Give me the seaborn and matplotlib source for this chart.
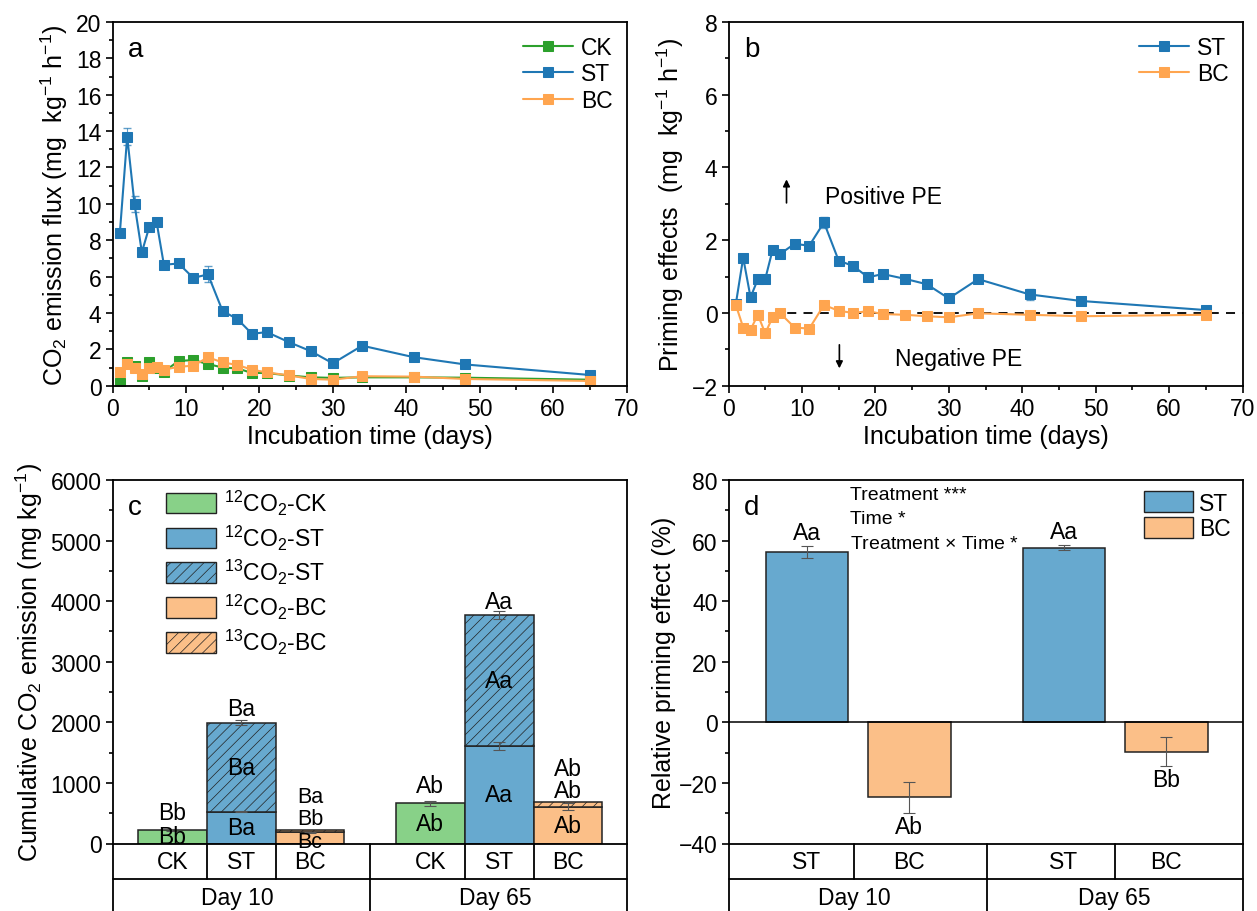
import numpy as np
import pandas as pd
import seaborn as sns
import matplotlib.pyplot as plt
from matplotlib.ticker import MultipleLocator
from matplotlib.patches import Patch

# ---- data ----
days = [1, 2, 3, 4, 5, 6, 7, 9, 11, 13, 15, 17, 19, 21, 24, 27, 30, 34, 41, 48, 65]
ck_flux = [0.13, 1.28, 1.10, 0.55, 1.28, 1.00, 0.77, 1.36, 1.41, 1.19, 1.00, 0.95, 0.70, 0.70,
           0.56, 0.46, 0.43, 0.46, 0.46, 0.44, 0.33]
st_flux = [8.39, 13.70, 9.98, 7.34, 8.72, 9.01, 6.65, 6.72, 5.93, 6.12, 4.10, 3.67, 2.85, 2.95,
           2.40, 1.90, 1.23, 2.20, 1.57, 1.17, 0.59]
bc_flux = [0.77, 1.19, 0.95, 0.62, 0.95, 1.04, 0.88, 1.04, 1.10, 1.56, 1.28, 1.14, 0.88, 0.73,
           0.57, 0.37, 0.33, 0.52, 0.50, 0.37, 0.26]
ck_flux_err = [0.05, 0.10, 0.10, 0.08, 0.08, 0.08, 0.08, 0.08, 0.08, 0.10, 0.08, 0.08, 0.06, 0.06,
               0.05, 0.05, 0.05, 0.05, 0.05, 0.05, 0.05]
st_flux_err = [0.10, 0.48, 0.45, 0.15, 0.10, 0.10, 0.10, 0.20, 0.10, 0.44, 0.10, 0.10, 0.10, 0.10,
               0.08, 0.08, 0.08, 0.08, 0.08, 0.08, 0.05]
bc_flux_err = [0.05, 0.10, 0.10, 0.08, 0.08, 0.08, 0.08, 0.08, 0.08, 0.12, 0.08, 0.08, 0.06, 0.06,
               0.05, 0.05, 0.05, 0.05, 0.05, 0.05, 0.05]

st_pe = [0.25, 1.52, 0.43, 0.93, 0.93, 1.73, 1.62, 1.90, 1.85, 2.49, 1.44, 1.29, 0.98, 1.07,
         0.94, 0.79, 0.40, 0.93, 0.51, 0.33, 0.08]
bc_pe = [0.22, -0.40, -0.46, -0.05, -0.56, -0.12, 0.00, -0.40, -0.43, 0.22, 0.06, 0.00, 0.05, -0.03,
         -0.05, -0.09, -0.12, -0.01, -0.05, -0.09, -0.05]
st_pe_err = [0.05, 0.05, 0.05, 0.05, 0.05, 0.05, 0.05, 0.05, 0.05, 0.15, 0.05, 0.05, 0.05, 0.05,
             0.05, 0.05, 0.05, 0.05, 0.16, 0.05, 0.05]

day_groups = ["Day 10", "Day 65"]
treatments = ["CK", "ST", "BC"]
ck_12c = [220, 666]
st_12c = [523, 1608]
st_13c = [1470, 2159]
bc_12c = [187, 606]
bc_13c = [33, 77]
ck_err = [15, 40]
st_12c_err = [10, 60]
st_tot_err = [40, 66]
bc_12c_err = [10, 55]
c_letters = {
    "CK": [["Bb", "Bb"], ["Ab", "Ab"]],              # [top, inside] per day
    "ST": [["Ba", "Ba", "Ba"], ["Aa", "Aa", "Aa"]],  # [top, 13C, 12C]
    "BC": [["Ba", "Bb", "Bc"], ["Ab", "Ab", "Ab"]],
}

rpe_labels = ["ST", "BC", "ST", "BC"]
rpe_values = [56.3, -24.8, 57.7, -9.7]
rpe_err = [1.9, 5.1, 0.7, 4.7]
rpe_letters = ["Aa", "Ab", "Aa", "Bb"]

# ---- style ----
sns.set_theme(style="ticks")
plt.rcParams["font.family"] = ["Liberation Sans", "DejaVu Sans"]
plt.rcParams["mathtext.fontset"] = "custom"
plt.rcParams["mathtext.rm"] = "Liberation Sans"
plt.rcParams["mathtext.it"] = "Liberation Sans:italic"
plt.rcParams["hatch.linewidth"] = 0.5
for k in ["text.color", "axes.labelcolor", "xtick.color", "ytick.color"]:
    plt.rcParams[k] = "black"
FS = 16.5
LFS = 18

c_green, c_blue, c_orange = "#2ca02c", "#1f77b4", "#ffa54f"
b_green, b_blue, b_orange = "#88d188", "#67a9cf", "#fbbf88"
edge = "#222222"

fig = plt.figure(figsize=(12.57, 9.12), dpi=100)
W, H = 1257, 912


def add_ax(l, r, t, b):
    return fig.add_axes([l / W, 1 - b / H, (r - l) / W, (b - t) / H])


ax_a = add_ax(112.5, 626.5, 23, 386.7)
ax_b = add_ax(728.5, 1242.5, 23, 386.7)
ax_c = add_ax(112.5, 626.5, 481, 844.5)
ax_d = add_ax(728.5, 1242.5, 481, 844.5)


def style(ax):
    for s in ax.spines.values():
        s.set_linewidth(1.3)
        s.set_color("black")
    ax.tick_params(which="major", direction="out", length=5, width=1.2, labelsize=FS, pad=3)
    ax.tick_params(which="minor", direction="out", length=3, width=1.2)


# ---- panel a ----
df_a = pd.DataFrame({"day": days * 3,
                     "flux": ck_flux + st_flux + bc_flux,
                     "trt": ["CK"] * len(days) + ["ST"] * len(days) + ["BC"] * len(days)})
pal = {"CK": c_green, "ST": c_blue, "BC": c_orange}
errs = {"CK": ck_flux_err, "ST": st_flux_err, "BC": bc_flux_err}
for trt in ["CK", "ST", "BC"]:
    sub = df_a[df_a.trt == trt]
    ax_a.errorbar(sub.day, sub.flux, yerr=errs[trt], fmt="none", ecolor=pal[trt],
                  elinewidth=0.8, capsize=3, alpha=0.7)
    sns.lineplot(data=sub, x="day", y="flux", ax=ax_a, color=pal[trt], marker="s",
                 markersize=7.5, markeredgecolor=pal[trt], linewidth=1.5, label=trt)
ax_a.set_xlim(0, 70)
ax_a.set_ylim(0, 20)
ax_a.xaxis.set_major_locator(MultipleLocator(10))
ax_a.xaxis.set_minor_locator(MultipleLocator(5))
ax_a.yaxis.set_major_locator(MultipleLocator(2))
ax_a.yaxis.set_minor_locator(MultipleLocator(1))
ax_a.set_xlabel("Incubation time (days)", fontsize=LFS, labelpad=3)
ax_a.set_ylabel("CO$_2$ emission flux (mg  kg$^{-1}$ h$^{-1}$)", fontsize=LFS, labelpad=4)
ax_a.legend(loc="upper right", frameon=False, fontsize=FS, handlelength=2.2,
            labelspacing=0.15, borderaxespad=0.2, handletextpad=0.35)
ax_a.text(0.03, 0.925, "a", transform=ax_a.transAxes, fontsize=20, va="center")
style(ax_a)

# ---- panel b ----
df_b = pd.DataFrame({"day": days * 2, "pe": st_pe + bc_pe,
                     "trt": ["ST"] * len(days) + ["BC"] * len(days)})
ax_b.hlines(0, 5.8, 70, colors="black", linestyles=(0, (5, 4)), linewidth=1.3, zorder=1)
ax_b.errorbar(days, st_pe, yerr=st_pe_err, fmt="none", ecolor=c_blue, elinewidth=0.8,
              capsize=3, alpha=0.7)
for trt in ["ST", "BC"]:
    sub = df_b[df_b.trt == trt]
    sns.lineplot(data=sub, x="day", y="pe", ax=ax_b, color=pal[trt], marker="s",
                 markersize=7.5, markeredgecolor=pal[trt], linewidth=1.5, label=trt, zorder=3)
ax_b.set_xlim(0, 70)
ax_b.set_ylim(-2, 8)
ax_b.xaxis.set_major_locator(MultipleLocator(10))
ax_b.xaxis.set_minor_locator(MultipleLocator(5))
ax_b.yaxis.set_major_locator(MultipleLocator(2))
ax_b.yaxis.set_minor_locator(MultipleLocator(1))
ax_b.set_xlabel("Incubation time (days)", fontsize=LFS, labelpad=3)
ax_b.set_ylabel("Priming effects  (mg  kg$^{-1}$ h$^{-1}$)", fontsize=LFS, labelpad=4)
ax_b.legend(loc="upper right", frameon=False, fontsize=FS, handlelength=2.2,
            labelspacing=0.15, borderaxespad=0.2, handletextpad=0.35)
ax_b.text(0.03, 0.925, "b", transform=ax_b.transAxes, fontsize=20, va="center")
ax_b.annotate("", xy=(7.9, 3.75), xytext=(7.9, 2.95),
              arrowprops=dict(arrowstyle="-|>", color="black", lw=1.2, mutation_scale=10))
ax_b.text(13.2, 3.2, "Positive PE", fontsize=FS, va="center")
ax_b.annotate("", xy=(15.1, -1.6), xytext=(15.1, -0.8),
              arrowprops=dict(arrowstyle="-|>", color="black", lw=1.2, mutation_scale=10))
ax_b.text(22.7, -1.26, "Negative PE", fontsize=FS, va="center")
style(ax_b)


def category_table(ax, xlim, inner_divs, group_div, row1, group_labels, row_h=0.099):
    tr = ax.get_xaxis_transform()
    kw = dict(color="black", lw=1.3, transform=tr, clip_on=False)
    ax.plot(xlim, [-row_h, -row_h], **kw)
    for x in [xlim[0], xlim[1], group_div]:
        ax.plot([x, x], [0, -0.25], **kw)
    for x in inner_divs:
        ax.plot([x, x], [0, -row_h], **kw)
    for x, lab in row1:
        ax.text(x, -row_h / 2, lab, transform=tr, ha="center", va="center", fontsize=FS)
    for x, lab in group_labels:
        ax.text(x, -0.148, lab, transform=tr, ha="center", va="center", fontsize=FS)


# ---- panel c ----
xc = {"CK": [1, 4.75], "ST": [2, 5.75], "BC": [3, 6.75]}
bkw = dict(width=1.0, edgecolor=edge, linewidth=1.1)
ekw = dict(fmt="none", ecolor="#555555", elinewidth=0.8, capsize=4, capthick=0.8)
st_tot = [a + b for a, b in zip(st_12c, st_13c)]
bc_tot = [a + b for a, b in zip(bc_12c, bc_13c)]
ax_c.bar(xc["CK"], ck_12c, color=b_green, **bkw)
ax_c.bar(xc["ST"], st_12c, color=b_blue, **bkw)
ax_c.bar(xc["ST"], st_13c, bottom=st_12c, color=b_blue, hatch="///", **bkw)
ax_c.bar(xc["BC"], bc_12c, color=b_orange, **bkw)
ax_c.bar(xc["BC"], bc_13c, bottom=bc_12c, color=b_orange, hatch="///", **bkw)
ax_c.errorbar(xc["CK"], ck_12c, yerr=ck_err, **ekw)
ax_c.errorbar(xc["ST"], st_12c, yerr=st_12c_err, **ekw)
ax_c.errorbar(xc["ST"], st_tot, yerr=st_tot_err, **ekw)
ax_c.errorbar(xc["BC"], bc_12c, yerr=bc_12c_err, **ekw)
for i in range(2):
    ck_t, ck_in = c_letters["CK"][i]
    ax_c.text(xc["CK"][i], ck_12c[i] + 290, ck_t, ha="center", va="center", fontsize=FS)
    ax_c.text(xc["CK"][i], ck_12c[i] / 2 if i else 110, ck_in, ha="center", va="center", fontsize=FS)
    s_t, s_13, s_12 = c_letters["ST"][i]
    ax_c.text(xc["ST"][i], st_tot[i] + 230, s_t, ha="center", va="center", fontsize=FS)
    ax_c.text(xc["ST"][i], st_12c[i] + st_13c[i] / 2, s_13, ha="center", va="center", fontsize=FS)
    ax_c.text(xc["ST"][i], st_12c[i] / 2, s_12, ha="center", va="center", fontsize=FS)
    b1, b2, b3 = c_letters["BC"][i]
    fs_bc = FS if i else 15.5
    ax_c.text(xc["BC"][i], bc_tot[i] + 560, b1, ha="center", va="center", fontsize=fs_bc)
    ax_c.text(xc["BC"][i], bc_tot[i] + 190 if i else 405, b2, ha="center", va="center", fontsize=fs_bc)
    ax_c.text(xc["BC"][i], bc_12c[i] / 2 if i else 40, b3, ha="center", va="center", fontsize=fs_bc)
ax_c.set_xlim(0.13, 7.6)
ax_c.set_ylim(0, 6000)
ax_c.yaxis.set_major_locator(MultipleLocator(1000))
ax_c.yaxis.set_minor_locator(MultipleLocator(500))
ax_c.set_xticks([])
ax_c.set_ylabel("Cumulative CO$_2$ emission (mg kg$^{-1}$)", fontsize=LFS, labelpad=4)
ax_c.text(0.03, 0.925, "c", transform=ax_c.transAxes, fontsize=20, va="center")
handles_c = [Patch(facecolor=b_green, edgecolor=edge, label="$^{12}$CO$_2$-CK"),
             Patch(facecolor=b_blue, edgecolor=edge, label="$^{12}$CO$_2$-ST"),
             Patch(facecolor=b_blue, edgecolor=edge, hatch="///", label="$^{13}$CO$_2$-ST"),
             Patch(facecolor=b_orange, edgecolor=edge, label="$^{12}$CO$_2$-BC"),
             Patch(facecolor=b_orange, edgecolor=edge, hatch="///", label="$^{13}$CO$_2$-BC")]
ax_c.legend(handles=handles_c, loc="upper left", bbox_to_anchor=(0.087, 1.004), frameon=False,
            fontsize=FS, handlelength=2.15, handleheight=1.0, labelspacing=0.25,
            handletextpad=0.35, borderaxespad=0.0)
style(ax_c)
category_table(ax_c, (0.13, 7.6), [1.5, 2.5, 5.25, 6.25], 3.87,
               [(x, t) for t in treatments for x in xc[t]],
               [(1.95, day_groups[0]), (5.69, day_groups[1])])

# ---- panel d ----
xd = [1, 2.25, 4.125, 5.375]
cols_d = [b_blue if l == "ST" else b_orange for l in rpe_labels]
ax_d.bar(xd, rpe_values, color=cols_d, **bkw)
ax_d.errorbar(xd, rpe_values, yerr=rpe_err, **ekw)
ax_d.axhline(0, color="black", lw=1.1)
for x, v, e, lab in zip(xd, rpe_values, rpe_err, rpe_letters):
    y = v + e + 4.5 if v > 0 else v - e - 4.5
    ax_d.text(x, y, lab, ha="center", va="center", fontsize=FS)
ax_d.set_xlim(0.05, 6.3)
ax_d.set_ylim(-40, 80)
ax_d.yaxis.set_major_locator(MultipleLocator(20))
ax_d.yaxis.set_minor_locator(MultipleLocator(10))
ax_d.set_xticks([])
ax_d.set_ylabel("Relative priming effect (%)", fontsize=LFS, labelpad=2)
ax_d.text(0.03, 0.925, "d", transform=ax_d.transAxes, fontsize=20, va="center")
ytr = ax_d.get_yaxis_transform()
ax_d.text(0.236, 75.2, "Treatment ***", transform=ytr, fontsize=14, va="center")
ax_d.text(0.236, 67.2, "Time *", transform=ytr, fontsize=14, va="center")
ax_d.text(0.236, 59.2, "Treatment $\\times$ Time *", transform=ytr, fontsize=14, va="center")
handles_d = [Patch(facecolor=b_blue, edgecolor=edge, label="ST"),
             Patch(facecolor=b_orange, edgecolor=edge, label="BC")]
ax_d.legend(handles=handles_d, loc="upper right", frameon=False, fontsize=FS,
            handlelength=2.1, handleheight=1.0, labelspacing=0.12, handletextpad=0.3,
            borderaxespad=0.1)
style(ax_d)
category_table(ax_d, (0.05, 6.3), [1.57, 4.75], 3.19,
               list(zip(xd, rpe_labels)),
               [(1.58, day_groups[0]), (4.74, day_groups[1])])

fig.savefig("out.png", dpi=100)
